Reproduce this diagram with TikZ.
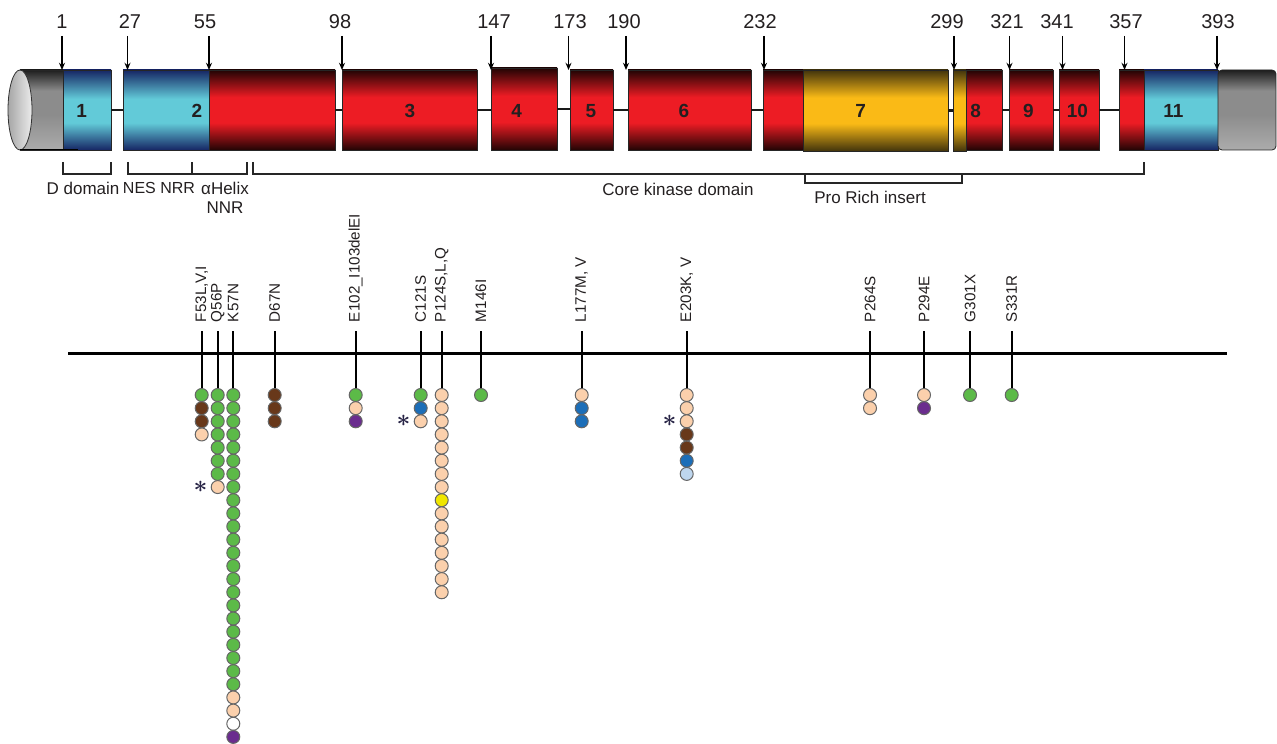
\documentclass[tikz,border=0pt]{standalone}
\usepackage{fontspec}
\setmainfont{Liberation Sans}
\usetikzlibrary{arrows.meta}

\definecolor{ink}{RGB}{35,31,32}
\definecolor{starink}{RGB}{40,36,70}
\definecolor{cyanmid}{RGB}{98,202,216}
\definecolor{cyandark}{RGB}{22,38,100}
\definecolor{redmid}{RGB}{237,28,36}
\definecolor{reddark}{RGB}{34,4,4}
\definecolor{yelmid}{RGB}{250,186,22}
\definecolor{yeldark}{RGB}{66,52,12}
\definecolor{graydark}{RGB}{30,30,30}
\definecolor{graymid}{RGB}{140,140,140}
\definecolor{graylight}{RGB}{172,172,172}
% allele colours
\definecolor{mg}{RGB}{92,186,72}
\definecolor{mb}{RGB}{104,56,26}
\definecolor{mt}{RGB}{251,208,172}
\definecolor{mu}{RGB}{28,110,184}
\definecolor{mp}{RGB}{106,44,142}
\definecolor{my}{RGB}{240,230,0}
\definecolor{ml}{RGB}{190,214,238}
\definecolor{mw}{RGB}{255,255,255}

\pgfdeclareverticalshading{cyanbar}{100bp}{color(0bp)=(cyandark); color(25bp)=(cyandark); color(42bp)=(cyanmid); color(57bp)=(cyanmid); color(75bp)=(cyandark); color(100bp)=(cyandark)}
\pgfdeclareverticalshading{redbar}{100bp}{color(0bp)=(reddark); color(25bp)=(reddark); color(42bp)=(redmid); color(58bp)=(redmid); color(75bp)=(reddark); color(100bp)=(reddark)}
\pgfdeclareverticalshading{yelbar}{100bp}{color(0bp)=(yeldark); color(25bp)=(yeldark); color(42bp)=(yelmid); color(58bp)=(yelmid); color(75bp)=(yeldark); color(100bp)=(yeldark)}
\pgfdeclareverticalshading{graybar}{100bp}{color(0bp)=(graylight); color(25bp)=(graylight); color(47bp)=(graymid); color(62bp)=(graymid); color(75bp)=(graydark); color(100bp)=(graydark)}

\begin{document}
\begin{tikzpicture}[x=0.5pt, y=-0.5pt,
  seg/.style={shade, draw=black!85, line width=0.4pt, inner sep=0pt, outer sep=0pt},
  link/.style={line width=1.1pt, black!90},
  posnum/.style={anchor=south, inner sep=0pt, font=\fontsize{10}{12}\selectfont, text=ink},
  posarrow/.style={line width=0.6pt, -{Stealth[length=3.6pt, width=3pt]}, shorten <=3.5pt},
  exnum/.style={font=\fontsize{9.5}{11}\selectfont\bfseries, text=ink},
  domlab/.style={font=\fontsize{8.5}{9.5}\selectfont, text=ink, inner sep=0pt},
  brace/.style={line width=0.75pt, black!85},
  mutlab/.style={rotate=90, anchor=west, inner sep=0pt, outer sep=4.5pt, font=\fontsize{7.6}{9}\selectfont, text=ink},
  stem/.style={line width=1pt},
  allele/.style={circle, draw=black!60, line width=0.5pt, inner sep=0pt, minimum size=6.5pt},
  astx/.style={anchor=east, inner sep=0pt, xshift=-1.5pt, text=starink, font=\large}]
  \useasboundingbox (0,0) rectangle (1277,743);
  % Exon bar
  \foreach \nm/\xa/\xb/\ya/\yb/\sh in {capL/20/63/70/150/graybar, e1/63/111/70/150/cyanbar,
      e2a/123/209/70/150/cyanbar, e2b/209/335/70/150/redbar, e3/342/477/70/150/redbar,
      e4/491/557/68/150/redbar, e5/570/613/70/150/redbar, e6/628/751/70/150/redbar,
      e7a/763/803/70/150/redbar, e7b/803/948/70/151/yelbar, e8a/953/966/70/151/yelbar,
      e8b/966/1002/70/150/redbar, e9/1009/1053/70/150/redbar, e10/1059/1099/70/150/redbar,
      e11a/1119/1144/70/150/redbar, e11b/1144/1218/70/150/cyanbar}
    \node[seg, shading=\sh, minimum width={(\xb-\xa)*0.5pt}, minimum height={(\yb-\ya)*0.5pt}] (\nm) at ({(\xa+\xb)/2},{(\ya+\yb)/2}) {};
  \shadedraw[shading=graybar, draw=black!85, line width=0.4pt, rounded corners=2pt] (1218,70) -- (1276,70) -- (1276,150) -- (1218,150) -- cycle;
  \shadedraw[left color=gray!70, right color=gray!15, draw=black!80, line width=0.4pt] (20,110) ellipse [x radius=12, y radius=40];
  \draw[line width=0.5pt] (capL.south west) -- ([xshift=7.5pt]e1.south west);
  \foreach \l/\r in {e1/e2a, e2b/e3, e3/e4, e4/e5, e5/e6, e6/e7a, e7b/e8a, e8b/e9, e9/e10, e10/e11a}
    \draw[link] (\l.east) -- (\l.east -| \r.west);
  \foreach \lx/\n in {81.7/1, 197/2, 410/3, 516.7/4, 591/5, 684/6, 860.7/7, 975.7/8, 1028.3/9, 1077.3/10, 1173.3/11}
    \node[exnum] (x\n) at (\lx,111) {\n};
  % Positions
  \foreach \lx/\ax/\n in {62/62/1, 130/127.5/27, 205/209/55, 340/342/98, 494/491/147, 570/568.5/173,
      624/626/190, 760/764/232, 947/954/299, 1007/1009.5/321, 1057/1062.5/341, 1126/1124.5/357, 1218/1217/393} {
    \node[posnum] (p\n) at (\lx,29) {\n};
    \coordinate (t\n) at (\ax,70);
    \draw[posarrow] (p\n.south -| t\n) -- (t\n);
  }
  % Domains
  \draw[brace] (63,162) -- (63,174) -- (111,174) -- (111,162);
  \draw[brace] (128,162) -- (128,174) -- (192,174) -- (192,162) (192,174) -- (247,174) -- (247,162);
  \draw[brace] (253,162) -- (253,174) -- (1144,174) -- (1144,162);
  \draw[brace] (805,174) -- (805,183) -- (962,183) -- (962,174);
  \node[domlab] (dD) at (83,188) {D domain};
  \node[domlab, font=\fontsize{8}{9.5}\selectfont] (dNES) at (159,188) {NES NRR};
  \node[domlab, align=center] (dHel) at (225,197.5) {αHelix\\NNR};
  \node[domlab] (dCore) at (678,189) {Core kinase domain};
  \node[domlab] (dPro) at (870,197) {Pro Rich insert};
  % Mutations
  \coordinate (trL) at (68,353);
  \coordinate (trR) at (1227,353);
  \draw[line width=1.5pt] (trL) -- (trR);
  \foreach \mx/\mid/\mlab/\mcols in {201.7/fa/{F53L,V,I}/{mg,mb,mb,mt},
      217.7/qb/{Q56P}/{mg,mg,mg,mg,mg,mg,mg,mt},
      233.3/kc/{K57N}/{mg,mg,mg,mg,mg,mg,mg,mg,mg,mg,mg,mg,mg,mg,mg,mg,mg,mg,mg,mg,mg,mg,mg,mt,mt,mw,mp},
      274.7/dd/{D67N}/{mb,mb,mb},
      355.7/ee/{E102\_I103delEI}/{mg,mt,mp},
      420.7/cf/{C121S}/{mg,mu,mt},
      441.7/pg/{P124S,L,Q}/{mt,mt,mt,mt,mt,mt,mt,mt,my,mt,mt,mt,mt,mt,mt,mt},
      481/mh/{M146I}/{mg},
      581.7/li/{L177M, V}/{mt,mu,mu},
      686.7/ej/{E203K, V}/{mt,mt,mt,mb,mb,mu,ml},
      870/pk/{P264S}/{mt,mt},
      924/pl/{P294E}/{mt,mp},
      970/gm/{G301X}/{mg},
      1011.7/sn/{S331R}/{mg}} {
    \node[mutlab] (m\mid) at (\mx,331) {\mlab};
    \foreach \mc [count=\kk] in \mcols
      \node[allele, fill=\mc] (\mid\kk) at (\mx,{395+(\kk-1)*13.15}) {};
    \draw[stem] (m\mid.west) -- (\mid1.north);
  }
  \node[astx] (sqb) at (qb8.west) {{\boldmath$\ast$}};
  \node[astx] (scf) at (cf3.west) {{\boldmath$\ast$}};
  \node[astx] (sej) at (ej3.west) {{\boldmath$\ast$}};
\end{tikzpicture}
\end{document}
